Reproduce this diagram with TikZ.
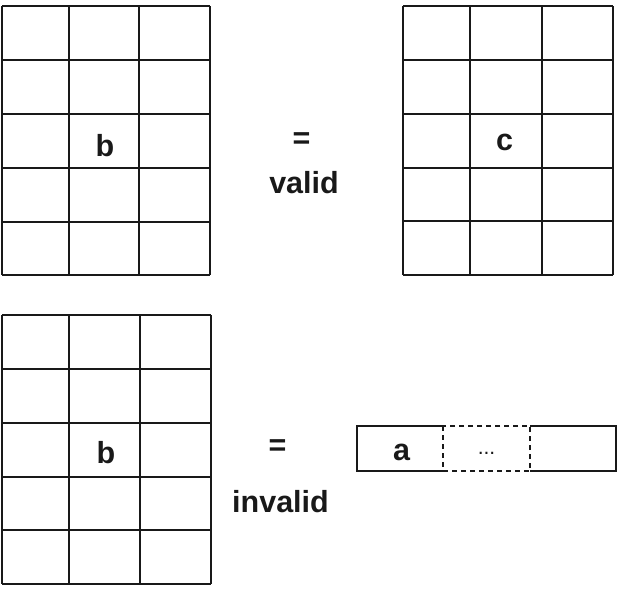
\documentclass[tikz,border=0pt]{standalone}
\usepackage{fontspec}
\setmainfont{Liberation Sans}
\begin{document}
\begin{tikzpicture}[x=1pt,y=-1pt,
  gridline/.style={line width=2pt,black!90},
  dashline/.style={line width=2pt,black!90,dash pattern=on 5pt off 4pt},
  lbl/.style={font=\fontsize{30.5}{34}\selectfont\bfseries,inner sep=0pt,anchor=base,text=black!90},
  dots/.style={font=\fontsize{21}{24}\selectfont,inner sep=0pt,anchor=base,text=black!90}]
\useasboundingbox (0,0) rectangle (621,590);
% top-left grid
\foreach \x in {2,69,139,210} \draw[gridline] (\x,6) -- (\x,275);
\foreach \y in {6,60,114,168,222,275} \draw[gridline] (2,\y) -- (210,\y);
% top-right grid
\foreach \x in {403,470,542,613} \draw[gridline] (\x,6) -- (\x,275);
\foreach \y in {6,60,114,168,221,275} \draw[gridline] (403,\y) -- (613,\y);
% bottom-left grid
\foreach \x in {2,69,140,211} \draw[gridline] (\x,315) -- (\x,584);
\foreach \y in {315,369,423,477,530,584} \draw[gridline] (2,\y) -- (211,\y);
% strip
\draw[gridline] (443,426) -- (357,426) -- (357,471) -- (443,471);
\draw[gridline] (530,426) -- (616,426) -- (616,471) -- (530,471);
\draw[dashline] (443,426) rectangle (530,471);
% labels
\node[lbl] (b1) at (105,156) {b};
\node[lbl] (c1) at (504.5,150) {c};
\node[lbl] (b2) at (106,463) {b};
\node[lbl] (a1) at (401.5,460) {a};
\node[dots] (d1) at (486.5,454) {...};
\node[lbl,anchor=center] (eq1) at (301.5,140.5) {=};
\node[lbl] (v1) at (304,193) {valid};
\node[lbl,anchor=center] (eq2) at (277.5,448) {=};
\node[lbl] (v2) at (280.5,512) {invalid};
\end{tikzpicture}
\end{document}
